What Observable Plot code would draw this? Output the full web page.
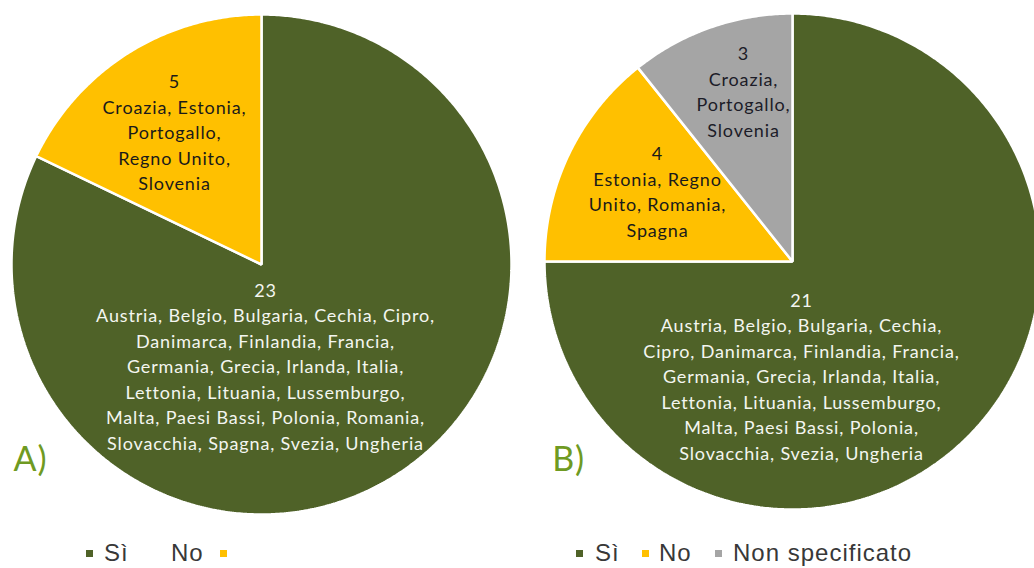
<!DOCTYPE html>
<html>
<head>
<meta charset="utf-8">
<script src="https://cdn.jsdelivr.net/npm/d3@7"></script>
<script src="https://cdn.jsdelivr.net/npm/@observablehq/plot@0.6"></script>
<style>
  html, body { margin: 0; padding: 0; background: #fff; overflow: hidden; }
  #wrap { width: 1034px; height: 568px; position: relative; overflow: hidden; }
  #chart { position: absolute; left: 0; top: 0; width: 1034px; height: 520px; overflow: hidden; }
  #chart text { letter-spacing: 0.85px; }
  .lg-sw { position: absolute; width: 7px; height: 7px; }
  .lg-t { position: absolute; font-family: "Liberation Sans", Arial, sans-serif; font-size: 24px;
          letter-spacing: 1px; color: #383838; line-height: 20px; white-space: nowrap; }
</style>
</head>
<body>
<div id="wrap">
  <div id="chart"></div>
  <div id="legend"></div>
</div>
<script>
// ---- data ----
const categories = ["Sì", "No", "Non specificato"];
const valuesA = [23, 5];
const valuesB = [21, 4, 3];
const countriesA = [
  ["Austria, Belgio, Bulgaria, Cechia, Cipro,",
   "Danimarca, Finlandia, Francia,",
   "Germania, Grecia, Irlanda, Italia,",
   "Lettonia, Lituania, Lussemburgo,",
   "Malta, Paesi Bassi, Polonia, Romania,",
   "Slovacchia, Spagna, Svezia, Ungheria"],
  ["Croazia, Estonia,", "Portogallo,", "Regno Unito,", "Slovenia"]
];
const countriesB = [
  ["Austria, Belgio, Bulgaria, Cechia,",
   "Cipro, Danimarca, Finlandia, Francia,",
   "Germania, Grecia, Irlanda, Italia,",
   "Lettonia, Lituania, Lussemburgo,",
   "Malta, Paesi Bassi, Polonia,",
   "Slovacchia, Svezia, Ungheria"],
  ["Estonia, Regno", "Unito, Romania,", "Spagna"],
  ["Croazia,", "Portogallo,", "Slovenia"]
];
const panelLabels = ["A)", "B)"];
const legendA = ["Sì", "No"];
const legendB = ["Sì", "No", "Non specificato"];

// ---- styles / layout ----
const colors = {"Sì": "#4F6228", "No": "#FFC000", "Non specificato": "#A5A5A5"};
const textColors = {"Sì": "#f4f6f0", "No": "#1a1a1a", "Non specificato": "#1c1c28"};
const W = 1034, H = 520;
const pies = [
  {values: valuesA, countries: countriesA, cx: 261, cy: 264, r: 250,
   labelPos: [[265, 364.5], [174, 130.5]], panelPos: [30, 460]},
  {values: valuesB, countries: countriesB, cx: 792, cy: 261, r: 248,
   labelPos: [[801, 374.5], [657, 190], [743, 90]], panelPos: [568, 460]}
];

// ---- build slice polygons with d3.pie ----
const slicePts = [];
const labels = [];
pies.forEach((p, pi) => {
  const arcs = d3.pie().sort(null).value(d => d)(p.values);
  arcs.forEach((a, si) => {
    const id = `${pi}-${si}`;
    const cat = categories[si];
    slicePts.push({id, cat, x: p.cx, y: p.cy});
    const steps = Math.max(2, Math.ceil((a.endAngle - a.startAngle) / (Math.PI / 360)));
    for (let k = 0; k <= steps; k++) {
      const t = a.startAngle + (a.endAngle - a.startAngle) * k / steps;
      slicePts.push({id, cat, x: p.cx + p.r * Math.sin(t), y: p.cy - p.r * Math.cos(t)});
    }
    labels.push({
      x: p.labelPos[si][0], y: p.labelPos[si][1], cat,
      text: [String(a.data), ...p.countries[si]].join("\n")
    });
  });
});
const panels = pies.map((p, i) => ({x: p.panelPos[0], y: p.panelPos[1], text: panelLabels[i]}));

const chart = Plot.plot({
  width: W, height: H,
  margin: 0,
  x: {type: "linear", domain: [0, W], range: [0, W], axis: null},
  y: {type: "linear", domain: [0, H], range: [0, H], axis: null},
  color: {type: "identity"},
  style: {background: "transparent", overflow: "hidden"},
  marks: [
    Plot.line(slicePts, {x: "x", y: "y", z: "id", curve: "linear-closed",
      fill: d => colors[d.cat], stroke: "#ffffff", strokeWidth: 2.5, strokeLinejoin: "miter", clip: true}),
    Plot.text(labels, {x: "x", y: "y", text: "text", fill: d => textColors[d.cat],
      fontFamily: "Lato", fontSize: 18, lineHeight: 1.42, lineAnchor: "middle", textAnchor: "middle"}),
    Plot.text(panels, {x: "x", y: "y", text: "text", fill: "#6f9a22",
      fontFamily: "Lato", fontSize: 34, lineAnchor: "middle", textAnchor: "middle"})
  ]
});
document.getElementById("chart").appendChild(chart);

// ---- legends (swatch centre x, text left x) ----
const legendLayout = [
  {items: legendA, sw: [89, 223], tx: [104, 171]},
  {items: legendB, sw: [579, 645, 718], tx: [595, 659, 733]}
];
const swY = 553, txTop = 542.5;
let html = "";
legendLayout.forEach(g => {
  g.items.forEach((c, i) => {
    html += `<span class="lg-sw" style="left:${g.sw[i] - 3.5}px;top:${swY - 3.5}px;background:${colors[c]}"></span>`;
    html += `<span class="lg-t" style="left:${g.tx[i]}px;top:${txTop}px">${c}</span>`;
  });
});
document.getElementById("legend").innerHTML = html;
</script>
</body>
</html>
